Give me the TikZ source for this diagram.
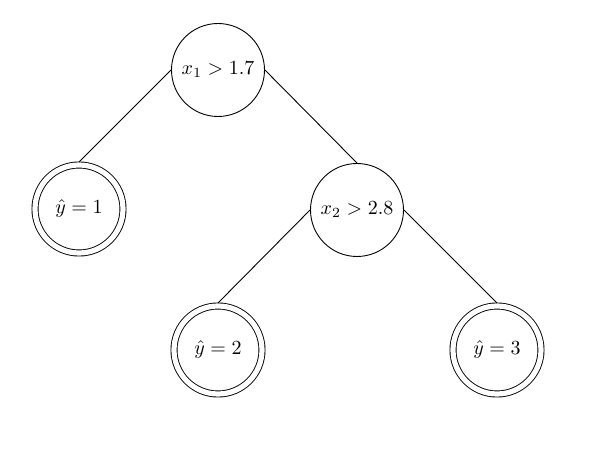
\documentclass[tikz,border=0pt]{standalone}
\begin{document}
\begin{tikzpicture}[x=0.5pt,y=-0.5pt,
  split/.style={draw,circle,minimum size=46.5pt,inner sep=0pt,line width=0.45pt},
  leaf/.style={draw,circle,minimum size=44pt,inner sep=0pt,double,double distance=2.6pt,line width=0.45pt,outer sep=1.5pt},
  edge/.style={draw,line width=0.45pt}]
\useasboundingbox (0,0) rectangle (590,458);
\node[split] (r) at (218,70) {$x_1 > 1.7$};
\node[leaf] (a) at (79,209) {$\hat{y} = 1$};
\node[split] (m) at (357,210) {$x_2 > 2.8$};
\node[leaf] (b) at (218,350) {$\hat{y} = 2$};
\node[leaf] (c) at (497,350) {$\hat{y} = 3$};
\draw[edge] (r.west) -- (a.north);
\draw[edge] (r.east) -- (m.north);
\draw[edge] (m.west) -- (b.north);
\draw[edge] (m.east) -- (c.north);
\end{tikzpicture}
\end{document}
